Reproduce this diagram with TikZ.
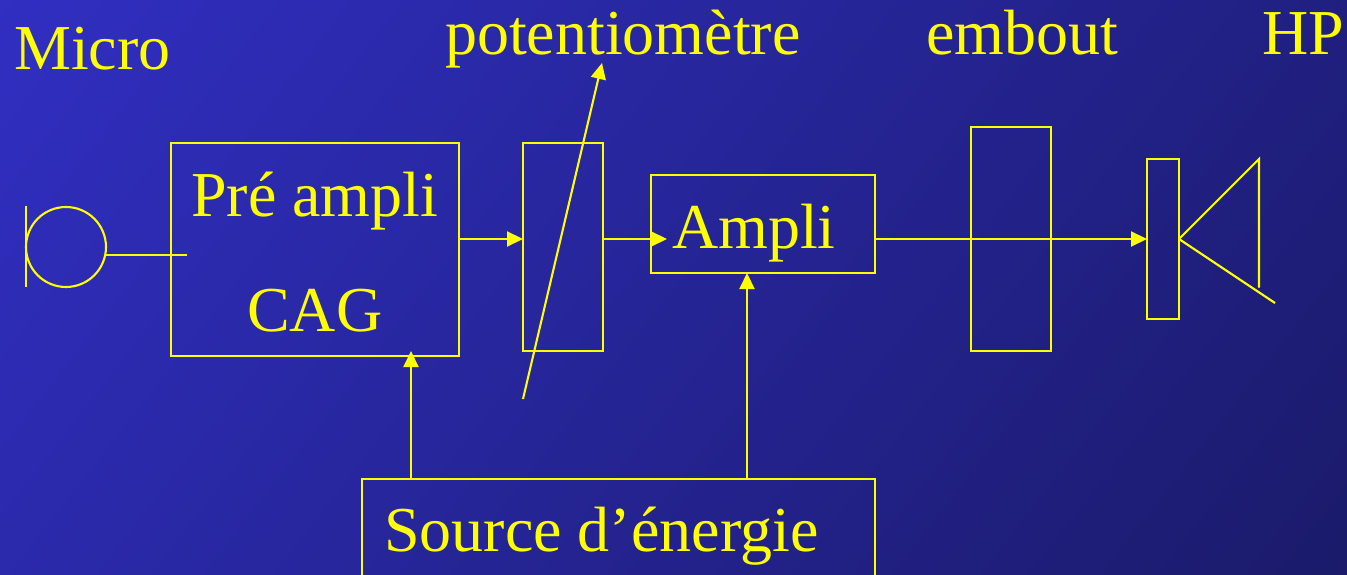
\documentclass[tikz,border=0pt]{standalone}
\usepackage{fontspec}
\setmainfont{Liberation Serif}
\usetikzlibrary{arrows.meta}
\definecolor{ylw}{RGB}{255,255,0}
\tikzset{
  x=1pt,y=-1pt,
  line/.style={draw=ylw,line width=2.1pt},
  arr/.style={line,-{Triangle[length=16pt,width=15pt]}},
  box/.style={line,rectangle,inner sep=0pt,outer sep=0pt,anchor=north west},
  txt/.style={text=ylw,font=\fontsize{64}{64}\selectfont,inner sep=0pt,anchor=base west}
}
\begin{document}
\begin{tikzpicture}
\useasboundingbox (0,0) rectangle (1347,575);
\begin{scope}
\clip (0,0) rectangle (1347,575);
\shade[top color={rgb,255:red,53;green,51;blue,212},bottom color={rgb,255:red,22;green,22;blue,88},shading angle=52] (-673.5,-287.5) rectangle (2020.5,862.5);
\node[box,minimum width=288pt,minimum height=213pt] (pre) at (171,143) {};
\node[box,minimum width=80pt,minimum height=208pt] (pot) at (523,143) {};
\node[box,minimum width=224pt,minimum height=98pt] (amp) at (651,175) {};
\node[box,minimum width=80pt,minimum height=224pt] (emb) at (971,127) {};
\node[box,minimum width=32pt,minimum height=160pt] (hp) at (1147,159) {};
\node[box,minimum width=513pt,minimum height=120pt] (src) at (362,479) {};
\node[line,circle,minimum size=80pt,inner sep=0pt,outer sep=0pt] (mic) at (66,247) {};
\end{scope}
\node[txt] (tmicro) at (14,70) {Micro};
\node[txt] (tpot) at (445,55) {potentiomètre};
\node[txt] (temb) at (926,55) {embout};
\node[txt] (thp) at (1262,55) {HP};
\node[txt] (tpre) at (191,216) {Pré ampli};
\node[txt] (tcag) at (247,331) {CAG};
\node[txt] (tamp) at (672,248) {Ampli};
\node[txt] (tsrc) at (384,551) {Source d’énergie};
\coordinate (micA) at (26,206);
\coordinate (micB) at (26,287);
\coordinate (micC) at (106,255);
\coordinate (micE) at (187,255);
\coordinate (potA) at (523,399);
\coordinate (potB) at (602,63);
\coordinate (apex) at (1179,239);
\coordinate (cone1) at (1259,159);
\coordinate (cone2) at (1259,287);
\coordinate (cone3) at (1275,303);
\draw[line] (micA) -- (micB);
\draw[line] (micC) -- (micE);
\draw[arr] (pre.east |- 0,239) -- (pot.west |- 0,239);
\draw[arr] (pot.east |- 0,239) -- (667,239);
\draw[arr] (amp.east |- 0,239) -- (hp.west |- 0,239);
\draw[arr] (411,479) -- (411,351);
\draw[arr] (747,479) -- (747,273);
\draw[arr] (potA) -- (potB);
\draw[line,line cap=round] (apex) -- (cone1) -- (cone2);
\draw[line] (apex) -- (cone3);
\end{tikzpicture}
\end{document}
